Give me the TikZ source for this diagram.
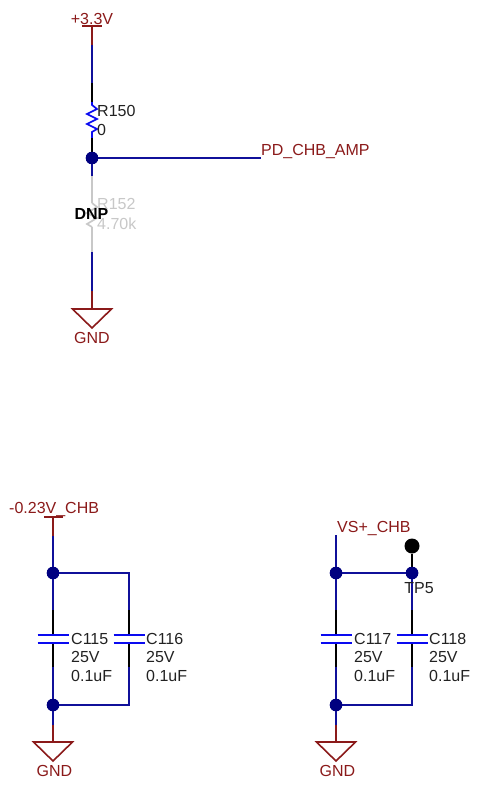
\documentclass[tikz,border=0pt]{standalone}
\usepackage{fontspec}
\setmainfont{Liberation Sans}
\definecolor{netred}{HTML}{8B1A1A}
\definecolor{wirenavy}{HTML}{10109A}
\definecolor{pinblue}{HTML}{0A0AF0}
\definecolor{dotnavy}{HTML}{000080}
\definecolor{dnpgray}{HTML}{C8C8C8}
\definecolor{txt}{HTML}{222222}
\tikzset{
  redw/.style={draw=netred,line width=1.7pt},
  wire/.style={draw=wirenavy,line width=1.7pt},
  pin/.style={draw=black,line width=1.7pt},
  blueb/.style={draw=pinblue,line width=1.7pt},
  grayp/.style={draw=dnpgray,line width=1.7pt},
  junc/.style={circle,fill=dotnavy,inner sep=0pt,minimum size=12.5pt},
  lab/.style={anchor=base west,inner sep=0pt,font=\fontsize{16}{18}\selectfont,text=txt},
  netlab/.style={inner sep=0pt,font=\fontsize{16}{18}\selectfont,text=netred},
  gndtri/.style={draw=netred,line width=1.6pt,line join=miter},
}
\newcommand{\capsym}[3]{% name, x, label x
  \coordinate (#1a) at (#2,610);
  \coordinate (#1b) at (#2,635);
  \coordinate (#1c) at (#2,643);
  \coordinate (#1d) at (#2,667);
  \coordinate (#1L1) at (#2-15.5,635);
  \coordinate (#1R1) at (#2+15.5,635);
  \coordinate (#1L2) at (#2-15.5,643);
  \coordinate (#1R2) at (#2+15.5,643);
  \draw[pin] (#1a) -- (#1b);
  \draw[pin] (#1c) -- (#1d);
  \draw[blueb] (#1L1) -- (#1R1);
  \draw[blueb] (#1L2) -- (#1R2);
}
\newcommand{\capnotes}[4]{% name, ref, x, y-none
  \node[lab] (#1ref) at (#3,644) {#2};
  \node[lab] (#1v) at (#3,662.5) {25V};
  \node[lab] (#1val) at (#3,681.5) {0.1uF};
}
\newcommand{\gndsym}[4]{% name, x, topy, text x
  \coordinate (#1t) at (#2,#3);
  \coordinate (#1l) at (#2-19.5,#3);
  \coordinate (#1r) at (#2+19.5,#3);
  \coordinate (#1p) at (#2,#3+19);
  \draw[gndtri] (#1l) -- (#1r) -- (#1p) -- cycle;
  \node[netlab,anchor=base] (#1txt) at (#4,#3+34.5) {GND};
}
\begin{document}
\begin{tikzpicture}[x=1pt,y=-1pt]
\useasboundingbox (0,0) rectangle (490,792);
\fill[white] (0,0) rectangle (490,792);
%% --- top section
\coordinate (pA) at (92,26);
\coordinate (pAl) at (82,26);
\coordinate (pAr) at (102,26);
\coordinate (p1) at (92,45);
\coordinate (p2) at (92,83);
\coordinate (p3) at (92,102);
\coordinate (p4) at (92,138);
\node[junc] (j1) at (92,158) {};
\coordinate (pdend) at (261,158);
\coordinate (q1) at (92,176);
\coordinate (q2) at (92,203);
\coordinate (q3) at (92,227);
\coordinate (q4) at (92,252);
\coordinate (q5) at (92,291);
\draw[redw] (pAl) -- (pAr);
\draw[redw] (pA) -- (p1);
\draw[wire] (p1) -- (p2);
\draw[pin] (p2) -- (p3);
\draw[blueb,line join=miter] (p3) -- ++(0,3) -- ++(5,4) -- ++(-10,5) -- ++(10,5) -- ++(-10,5) -- ++(10,5) -- ++(-5,3) -- (p4);
\draw[pin] (p4) -- (j1);
\draw[wire] (j1) -- (pdend);
\draw[wire] (j1) -- (q1);
\draw[grayp] (q1) -- (q2);
\draw[grayp] (q2) -- ++(5,4) -- ++(-10,6) -- ++(10,5) -- ++(-10,6) -- (q3);
\draw[grayp] (q3) -- (q4);
\draw[wire] (q4) -- (q5);
\gndsym{g1}{92}{309}{92}
\draw[redw] (q5) -- (g1t);
\node[junc] at (j1) {};
\node[netlab,anchor=base] (n33) at (92,24.5) {+3.3V};
\node[netlab,anchor=base west] (npd) at (261,155) {PD\_CHB\_AMP};
\node[lab] (r150) at (97,116.5) {R150};
\node[lab] (r150v) at (97,135.5) {0};
\node[lab,text=dnpgray] (r152) at (97,209.5) {R152};
\node[lab,text=dnpgray] (r152v) at (97,229) {4.70k};
\node[inner sep=0pt,anchor=base,font=\fontsize{16}{18}\selectfont\bfseries,text=black] (dnp) at (91.5,219) {DNP};
%% --- lower left
\coordinate (aT) at (53,517);
\coordinate (aTl) at (44,517);
\coordinate (aTr) at (63,517);
\coordinate (a1) at (53,536);
\coordinate (a2) at (53,725);
\coordinate (tr1) at (129,573);
\coordinate (br1) at (129,705);
\node[junc] (j2) at (53,573) {};
\node[junc] (j3) at (53,705) {};
\capsym{c115}{53}{71}
\capsym{c116}{129}{146}
\draw[redw] (aTl) -- (aTr);
\draw[redw] (aT) -- (a1);
\draw[wire] (a1) -- (j2);
\draw[wire] (j2) -- (c115a);
\draw[wire] (j2) -- (tr1) -- (c116a);
\draw[wire] (c115d) -- (j3);
\draw[wire] (c116d) -- (br1) -- (j3);
\draw[wire] (j3) -- (a2);
\gndsym{g2}{53}{742}{54.5}
\draw[redw] (a2) -- (g2t);
\node[junc] at (j2) {};
\node[junc] at (j3) {};
\node[netlab,anchor=base west] (n023) at (9,513.5) {-0.23V\_CHB};
\capnotes{c115n}{C115}{71}{}
\capnotes{c116n}{C116}{146}{}
%% --- lower right
\coordinate (b0) at (336,535);
\coordinate (b2) at (336,725);
\coordinate (br2) at (412,705);
\node[circle,fill=black,inner sep=0pt,minimum size=15pt] (tp5) at (412,546) {};
\node[junc] (j4) at (336,573) {};
\node[junc] (j5) at (412,573) {};
\node[junc] (j6) at (336,705) {};
\capsym{c117}{336}{354}
\capsym{c118}{412}{429}
\draw[pin] (tp5) -- (j5);
\draw[wire] (b0) -- (j4);
\draw[wire] (j4) -- (j5);
\draw[wire] (j4) -- (c117a);
\draw[wire] (j5) -- (c118a);
\draw[wire] (c117d) -- (j6);
\draw[wire] (c118d) -- (br2) -- (j6);
\draw[wire] (j6) -- (b2);
\gndsym{g3}{336}{742}{337.5}
\draw[redw] (b2) -- (g3t);
\node[junc] at (j4) {};
\node[junc] at (j5) {};
\node[junc] at (j6) {};
\node[netlab,anchor=base west] (nvs) at (337,532.5) {VS+\_CHB};
\node[lab,anchor=base] (tp5t) at (419,593) {TP5};
\capnotes{c117n}{C117}{354}{}
\capnotes{c118n}{C118}{429}{}
\end{tikzpicture}
\end{document}
